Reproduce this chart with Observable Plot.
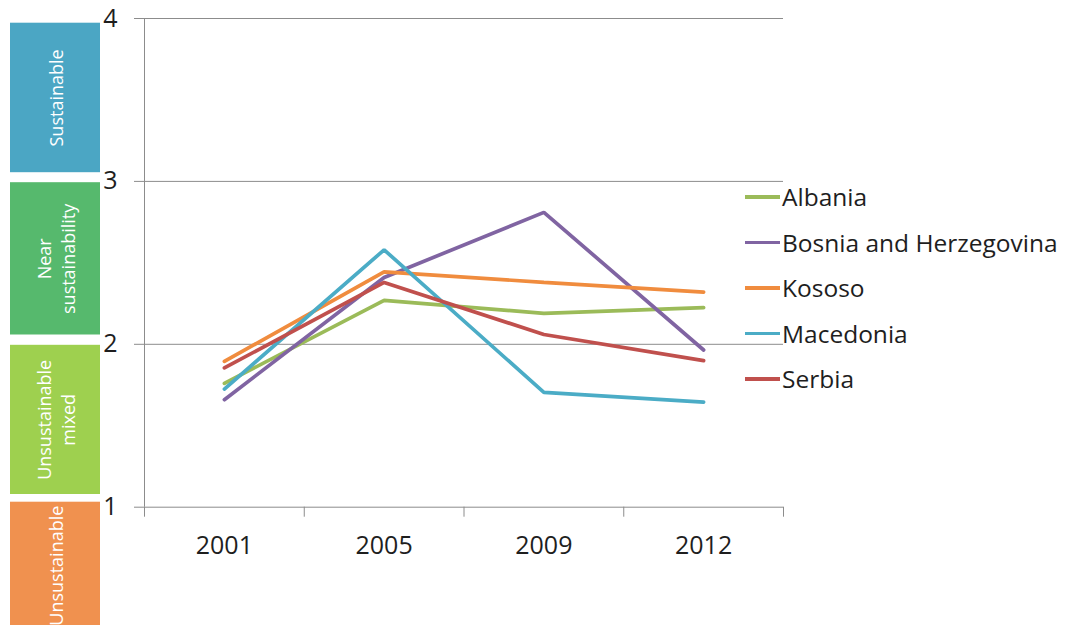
<!DOCTYPE html>
<html><head><meta charset="utf-8">
<script src="https://cdn.jsdelivr.net/npm/d3@7"></script>
<script src="https://cdn.jsdelivr.net/npm/@observablehq/plot@0.6"></script>
<style>
html,body{margin:0;padding:0;background:#fff;}
#wrap{position:relative;width:1070px;height:625px;overflow:hidden;font-family:"Open Sans",sans-serif;}
#legend{position:absolute;left:745px;top:174px;}
.row{display:flex;align-items:center;height:45.5px;font-size:24.5px;color:#1e1e1e;white-space:nowrap;}
.sw{width:35px;height:3.5px;margin-right:2px;}
</style></head><body><div id="wrap"></div>
<script>
// ---- data ----
const years = ["2001", "2005", "2009", "2012"];
const countries = ["Albania", "Bosnia and Herzegovina", "Kososo", "Macedonia", "Serbia"];
const albania   = [1.76, 2.27, 2.19, 2.225];
const bosnia    = [1.66, 2.41, 2.81, 1.965];
const kososo    = [1.895, 2.445, 2.38, 2.32];
const macedonia = [1.725, 2.58, 1.705, 1.645];
const serbia    = [1.855, 2.38, 2.06, 1.90];
const seriesColors = ["#9BBB59", "#8064A2", "#F08C3E", "#4BACC6", "#C0504D"];
const yTicks = [1, 2, 3, 4];
const bandLabels = ["Sustainable", "Near\nsustainability", "Unsustainable\nmixed", "Unsustainable"];
const bandLow  = [3, 2, 1, 0];
const bandHigh = [4, 3, 2, 1];
const bandColors = ["#4BA6C4", "#56B96D", "#9ED04F", "#F0914F"];

// ---- layout / style ----
const bandStyle = [
  {insetTop: 4.7, insetBottom: 8.7, dy: -2},
  {insetTop: 1.3, insetBottom: 9.3, dy: -4},
  {insetTop: 1, insetBottom: 12.7, dy: -5.9},
  {insetTop: -5, insetBottom: 0, dy: -23}
];

const seriesValues = [albania, bosnia, kososo, macedonia, serbia];
const rows = countries.flatMap((c, i) =>
  years.map((yr, j) => ({country: c, year: yr, pos: j + 0.5, value: seriesValues[i][j]})));
const bands = bandLabels.map((label, i) => ({label, low: bandLow[i], high: bandHigh[i], color: bandColors[i], mid: (bandLow[i] + bandHigh[i]) / 2}));

const W = 1070, H = 625, ML = 144, MR = 287;
const frameW = W - ML - MR;

const bandMarks = bands.flatMap((b, i) => [
  Plot.rect([b], {y1: "low", y2: "high", fill: "color",
    insetLeft: 10 - ML, insetRight: frameW - (100 - ML),
    insetTop: bandStyle[i].insetTop, insetBottom: bandStyle[i].insetBottom}),
  Plot.text([b], {y: "mid", text: "label", frameAnchor: "left", dx: 55 - ML, dy: bandStyle[i].dy,
    rotate: -90, fill: "white", fontSize: 18, lineHeight: 1.33, textAnchor: "middle"})
]);

const chart = Plot.plot({
  width: W, height: H,
  marginLeft: ML, marginRight: MR, marginTop: 18, marginBottom: H - 506.7,
  style: {fontFamily: "'Open Sans', sans-serif", background: "transparent", overflow: "visible"},
  x: {type: "linear", domain: [0, years.length]},
  y: {domain: [1, 4]},
  color: {domain: countries, range: seriesColors},
  marks: [
    ...bandMarks,
    Plot.ruleY(yTicks, {stroke: "#8c8c8c", strokeWidth: 1}),
    Plot.ruleX([0], {y1: 1, y2: 4, stroke: "#8c8c8c", strokeWidth: 1}),
    Plot.axisY({ticks: yTicks, tickSize: 10, tickPadding: 17, stroke: "#8c8c8c", fontSize: 25, fill: "#1e1e1e", label: null, tickFormat: d => String(d)}),
    Plot.axisX({ticks: d3.range(years.length + 1), tickSize: 10, stroke: "#8c8c8c", tickFormat: () => "", label: null}),
    Plot.axisX({ticks: years.map((_, j) => j + 0.5), tickSize: 0, tickPadding: 29, fontSize: 25, fill: "#1e1e1e", tickFormat: d => years[Math.round(d - 0.5)], label: null}),
    Plot.line(rows, {x: "pos", y: "value", z: "country", stroke: "country", strokeWidth: 3.7, strokeLinejoin: "miter"})
  ]
});

const wrap = document.getElementById("wrap");
wrap.appendChild(chart);
const legend = document.createElement("div");
legend.id = "legend";
countries.forEach((c, i) => {
  const row = document.createElement("div");
  row.className = "row";
  const sw = document.createElement("div");
  sw.className = "sw";
  sw.style.background = seriesColors[i];
  const t = document.createElement("span");
  t.textContent = c;
  row.appendChild(sw); row.appendChild(t);
  legend.appendChild(row);
});
wrap.appendChild(legend);
</script></body></html>
